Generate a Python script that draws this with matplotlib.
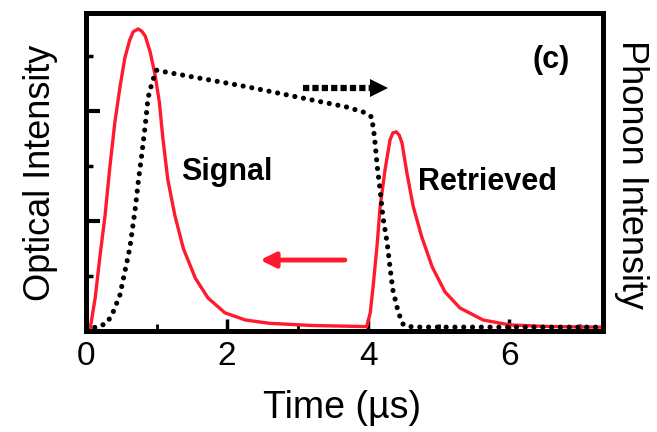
import matplotlib
matplotlib.use("Agg")
import matplotlib.pyplot as plt
from matplotlib.ticker import MultipleLocator

plt.rcParams['font.family'] = ['Liberation Sans', 'DejaVu Sans']

# Optical intensity (red): signal + retrieved pulse
opt_t = [0.0, 0.06, 0.13, 0.2, 0.27, 0.34, 0.41, 0.48, 0.55, 0.62, 0.67, 0.74,
         0.79, 0.84, 0.91, 0.98, 1.04, 1.09, 1.16, 1.26, 1.38, 1.55, 1.73, 1.97,
         2.26, 2.6, 3.2, 3.98, 4.03, 4.07, 4.13, 4.17, 4.24, 4.31, 4.35, 4.4,
         4.44, 4.48, 4.55, 4.64, 4.76, 4.91, 5.09, 5.3, 5.63, 6.01, 6.6, 7.33]
opt_i = [0.0, 0.05, 0.6, 1.38, 2.1, 3.0, 3.8, 4.42, 4.96, 5.29, 5.44, 5.49,
         5.45, 5.36, 5.07, 4.65, 4.16, 3.5, 2.75, 2.1, 1.5, 0.96, 0.6, 0.33,
         0.2, 0.14, 0.1, 0.08, 0.33, 0.8, 1.6, 2.26, 2.93, 3.47, 3.6, 3.62,
         3.56, 3.42, 2.87, 2.26, 1.71, 1.16, 0.71, 0.42, 0.2, 0.11, 0.08, 0.07]

# Phonon intensity (black dotted)
ph_t = [0.0, 0.17, 0.3, 0.38, 0.48, 0.55, 0.62, 0.7, 0.74, 0.79, 0.84, 0.88,
        0.94, 1.0, 1.16, 2.28, 3.7, 3.93, 4.05, 4.09, 4.13, 4.17, 4.21, 4.27,
        4.31, 4.35, 4.43, 4.5, 4.64, 7.33]
ph_i = [0.05, 0.07, 0.15, 0.33, 0.65, 1.07, 1.5, 2.24, 2.7, 3.2, 3.74, 4.24,
        4.53, 4.74, 4.7, 4.44, 4.07, 3.98, 3.89, 3.53, 2.98, 2.56, 2.07, 1.6,
        1.16, 0.75, 0.33, 0.11, 0.07, 0.07]

xticks = [0, 2, 4, 6]
xtick_labels = ['0', '2', '4', '6']

fig = plt.figure(figsize=(6.57, 4.32), dpi=100)
ax = fig.add_axes([86/657, 1-331/432, 517/657, 318/432])

ax.plot(opt_t, opt_i, color='#ff1a2e', lw=2.4, solid_capstyle='round',
        solid_joinstyle='round', zorder=3)

ax2 = ax.twinx()
ax2.plot(ph_t, ph_i, color='black', lw=3.7, linestyle=(0, (0.01, 1.7)),
         dash_capstyle='round', zorder=2)

for a in (ax, ax2):
    a.set_xlim(0, 7.33)
    a.set_ylim(0, 5.78)

# dotted arrow (phonon propagation)
ax2.plot([3.08, 4.02], [4.42, 4.42], color='black', lw=4.5,
         linestyle=(0, (1.0, 0.5)), dash_capstyle='butt')
ax2.plot([4.16], [4.42], marker='>', color='black', markersize=13, markeredgewidth=0)

# red arrow
ax.annotate('', xy=(2.47, 1.29), xytext=(3.67, 1.29),
            arrowprops=dict(arrowstyle='-|>,head_length=0.9,head_width=0.45',
                            color='#ff1a2e', lw=3.5, shrinkA=0, shrinkB=0))

ax.text(2.0, 2.89, 'Signal', fontsize=22, fontweight='bold', ha='center', va='center')
ax.text(5.69, 2.71, 'Retrieved', fontsize=22, fontweight='bold', ha='center', va='center')
ax.text(6.6, 4.93, '(c)', fontsize=22, fontweight='bold', ha='center', va='center')

ax.set_xticks(xticks)
ax.set_xticklabels(xtick_labels)
ax.xaxis.set_minor_locator(MultipleLocator(1))
ax.yaxis.set_major_locator(MultipleLocator(2))
ax.yaxis.set_minor_locator(MultipleLocator(1))
ax.set_yticklabels([])
ax.tick_params(axis='x', which='major', direction='in', length=9, width=2.5,
               labelsize=24, pad=7)
ax.tick_params(axis='x', which='minor', direction='in', length=5, width=2)
ax.tick_params(axis='y', which='major', direction='in', length=10, width=3)
ax.tick_params(axis='y', which='minor', direction='in', length=5, width=2.5)
ax2.set_yticks([])

for a in (ax, ax2):
    for s in a.spines.values():
        s.set_linewidth(3.5)

fig.text(41/657, 1-173/432, 'Optical Intensity', rotation=90, fontsize=26,
         ha='center', va='center')
fig.text(632/657, 1-175/432, 'Phonon Intensity', rotation=270, fontsize=26,
         ha='center', va='center')
fig.text(342/657, 1-408/432, 'Time (µs)', fontsize=27, ha='center', va='center')

fig.savefig('out.png', dpi=100)
